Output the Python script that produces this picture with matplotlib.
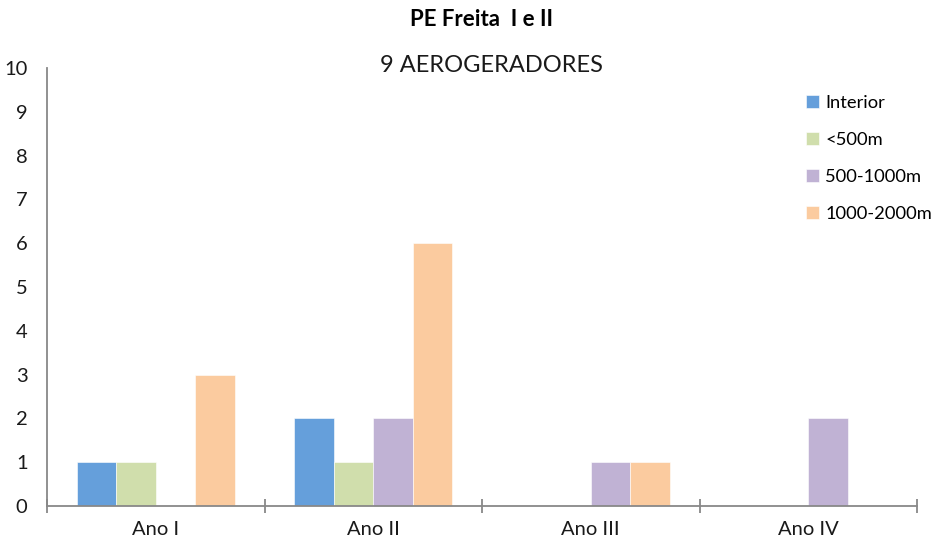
import matplotlib.pyplot as plt
import numpy as np

# data
anos = ["Ano I", "Ano II", "Ano III", "Ano IV"]
series = ["Interior", "<500m", "500-1000m", "1000-2000m"]
interior = [1, 2, 0, 0]
menos500 = [1, 1, 0, 0]
m500_1000 = [0, 2, 1, 2]
m1000_2000 = [3, 6, 1, 0]
cores = ["#659FDB", "#D0DEAC", "#C0B2D4", "#FBCB9F"]

plt.rcParams['font.family'] = ['Lato', 'DejaVu Sans']

fig = plt.figure(figsize=(9.35, 5.43), dpi=100)
ax = fig.add_axes([47/935, 1-506/543, (917-47)/935, (506-68)/543])

x = np.arange(len(anos))
largura = 0.182
valores = [interior, menos500, m500_1000, m1000_2000]
for i, (nome, v) in enumerate(zip(series, valores)):
    ax.bar(x + (i - 1.5)*largura, v, largura, color=cores[i], label=nome,
           edgecolor='white', linewidth=0.4)

ax.set_xlim(-0.5, len(anos) - 0.5)
ax.set_ylim(0, 10)
ax.set_yticks(range(0, 11))
ax.set_xticks(x)
ax.set_xticklabels(anos)
ax.set_xticks(np.arange(-0.5, len(anos)), minor=True)
ax.tick_params(axis='y', length=0, pad=14, labelsize=14.5, labelcolor='#1a1a1a')
ax.tick_params(axis='x', which='major', length=0, pad=11, labelsize=14.5, labelcolor='#1a1a1a')
ax.tick_params(axis='x', which='minor', direction='inout', length=10, width=1.3, color='#888888')

for s in ['top', 'right']:
    ax.spines[s].set_visible(False)
for s in ['left', 'bottom']:
    ax.spines[s].set_color('#888888')
    ax.spines[s].set_linewidth(1.3)

fig.text(482/935, 1-20/543, "PE Freita  I e II", ha='center', va='center',
         fontsize=16, fontweight='bold')
fig.text(491/935, 1-65/543, "9 AEROGERADORES", ha='center', va='center',
         fontsize=17, color='#1a1a1a')

ax.legend(loc='upper left', bbox_to_anchor=(806/935, 1-95/543), bbox_transform=fig.transFigure,
          frameon=False, fontsize=13.2, handlelength=0.7, handleheight=0.7,
          handletextpad=0.35, labelspacing=1.15, borderaxespad=0, borderpad=0)

fig.savefig("out.png", dpi=100)
